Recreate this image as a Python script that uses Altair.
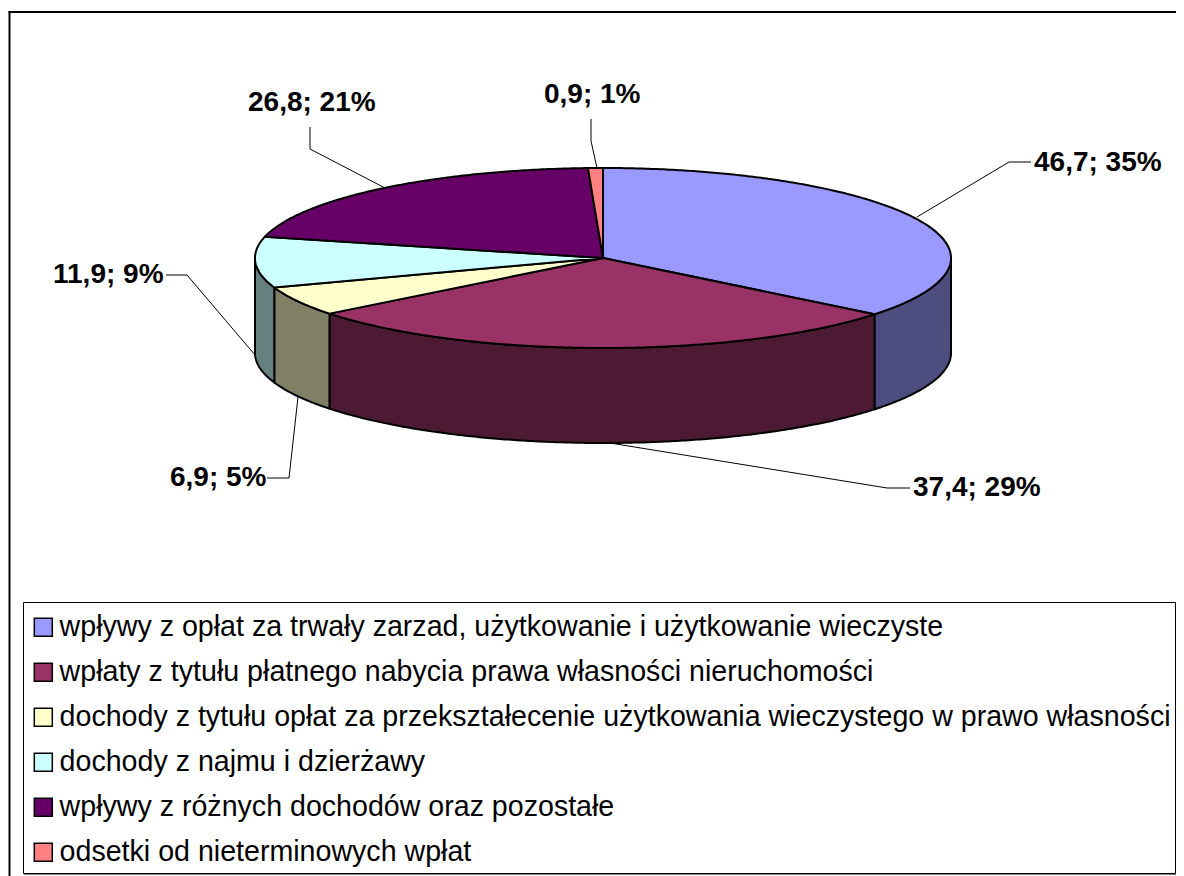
import math
import altair as alt
import pandas as pd

categories = [
    "wpływy z opłat za trwały zarzad, użytkowanie i użytkowanie wieczyste",
    "wpłaty z tytułu płatnego nabycia prawa własności nieruchomości",
    "dochody z tytułu opłat za przekształecenie użytkowania wieczystego w prawo własności",
    "dochody z najmu i dzierżawy",
    "wpływy z różnych dochodów oraz pozostałe",
    "odsetki od nieterminowych wpłat",
]
values = [46.7, 37.4, 6.9, 11.9, 26.8, 0.9]
percent_labels = ["35%", "29%", "5%", "9%", "21%", "1%"]
top_colors = ["#9999FF", "#993366", "#FFFFCC", "#CCFFFF", "#660066", "#FF8080"]
side_colors = ["#4D4D80", "#4D1A33", "#808066", "#668080", "#330033", "#804040"]

# layout, in chart pixels (the chart sits 8px inside the page)
CX, CY, RX, RY, DEPTH = 595, 250, 348, 90, 95
W, H = 1168, 868
label_left = [1026, 905, 162, 45, 240, 536]
label_mid = [155, 480, 470, 267, 95, 87]
leaders = [
    [(909, 209), (1001, 154), (1023, 154)],
    [(602, 435), (879, 480), (902, 480)],
    [(290, 389), (281, 470), (259, 470)],
    [(247, 347), (179, 267), (158, 267)],
    [(377, 180), (302, 141), (302, 119)],
    [(589, 160), (583, 133), (583, 111)],
]

total = sum(values)
edges = [0.0]
for v in values:
    edges.append(edges[-1] + v / total * 360)


def pt(a, dy=0.0):
    r = math.radians(a)
    return CX + RX * math.sin(r), CY - RY * math.cos(r) + dy


def arc(a0, a1):
    n = max(2, int(abs(a1 - a0) * 2))
    return [a0 + (a1 - a0) * k / n for k in range(n + 1)]


top_rows, wall_rows = [], []
for i, cat in enumerate(categories):
    a0, a1 = edges[i], edges[i + 1]
    poly = [(CX, CY)] + [pt(a) for a in arc(a0, a1)] + [(CX, CY)]
    for k, (x, y) in enumerate(poly):
        top_rows.append({"cat": cat, "k": k, "x": x, "y": y})
    b0, b1 = max(a0, 90), min(a1, 270)
    if b1 > b0:
        angles = arc(b0, b1)
        poly = [pt(a) for a in angles] + [pt(a, DEPTH) for a in reversed(angles)]
        poly.append(poly[0])
        for k, (x, y) in enumerate(poly):
            wall_rows.append({"wall": side_colors[i], "k": k, "x": x, "y": y})

x_enc = alt.X("x:Q", scale=alt.Scale(domain=[0, W], range=[0, W]), axis=None)
y_enc = alt.Y("y:Q", scale=alt.Scale(domain=[0, H], range=[0, H]), axis=None)

walls = alt.Chart(pd.DataFrame(wall_rows)).mark_line(
    stroke="black", strokeWidth=2, strokeJoin="round"
).encode(
    x=x_enc, y=y_enc, order="k:Q",
    fill=alt.Fill("wall:N", scale=None, legend=None),
)

tops = alt.Chart(pd.DataFrame(top_rows)).mark_line(
    stroke="black", strokeWidth=2, strokeJoin="round"
).encode(
    x=x_enc, y=y_enc, order="k:Q",
    fill=alt.Fill(
        "cat:N",
        sort=categories,
        scale=alt.Scale(domain=categories, range=top_colors),
        legend=alt.Legend(
            title=None, orient="none", legendX=21, legendY=605,
            symbolType="square", symbolSize=324, symbolStrokeColor="black",
            symbolStrokeWidth=1.5, symbolOpacity=1,
            labelFont="Liberation Sans", labelFontSize=28.6, labelColor="black",
            labelLimit=1200, rowPadding=16, labelOffset=2, padding=0,
        ),
    ),
)

leader_df = pd.DataFrame(
    [{"s": i, "k": k, "x": x, "y": y} for i, l in enumerate(leaders) for k, (x, y) in enumerate(l)]
)
leader_marks = alt.Chart(leader_df).mark_line(color="black", strokeWidth=1).encode(
    x=x_enc, y=y_enc, order="k:Q", detail="s:N"
)

label_df = pd.DataFrame({
    "x": label_left, "y": label_mid,
    "t": [f"{str(v).replace('.', ',')}; {p}" for v, p in zip(values, percent_labels)],
})
labels = alt.Chart(label_df).mark_text(
    font="Liberation Sans", fontSize=28, fontWeight="bold", align="left", baseline="middle", color="black"
).encode(x=x_enc, y=y_enc, text="t:N")

one = alt.Chart(pd.DataFrame({"a": [0]}))
frame_top = one.mark_rule(color="black", strokeWidth=2).encode(x=alt.value(0.5), x2=alt.value(W), y=alt.value(4))
frame_left = one.mark_rule(color="black", strokeWidth=2).encode(x=alt.value(1.5), y=alt.value(3), y2=alt.value(H))
legend_box = one.mark_rect(fill="white", stroke="black", strokeWidth=1).encode(
    x=alt.value(15.5), x2=alt.value(1167.5), y=alt.value(594.5), y2=alt.value(865.5)
)
shadow_b = one.mark_rule(color="#808080", strokeWidth=1).encode(x=alt.value(16), x2=alt.value(1168), y=alt.value(866.5))

chart = alt.layer(
    frame_top, frame_left, shadow_b, legend_box, walls, tops, leader_marks, labels
).resolve_scale(fill="independent").properties(
    width=W, height=H, padding=0, autosize=alt.AutoSizeParams(type="none"),
    background="white",
).configure_view(stroke=None)

chart.save("out.html", embed_options={"renderer": "svg", "actions": False})
